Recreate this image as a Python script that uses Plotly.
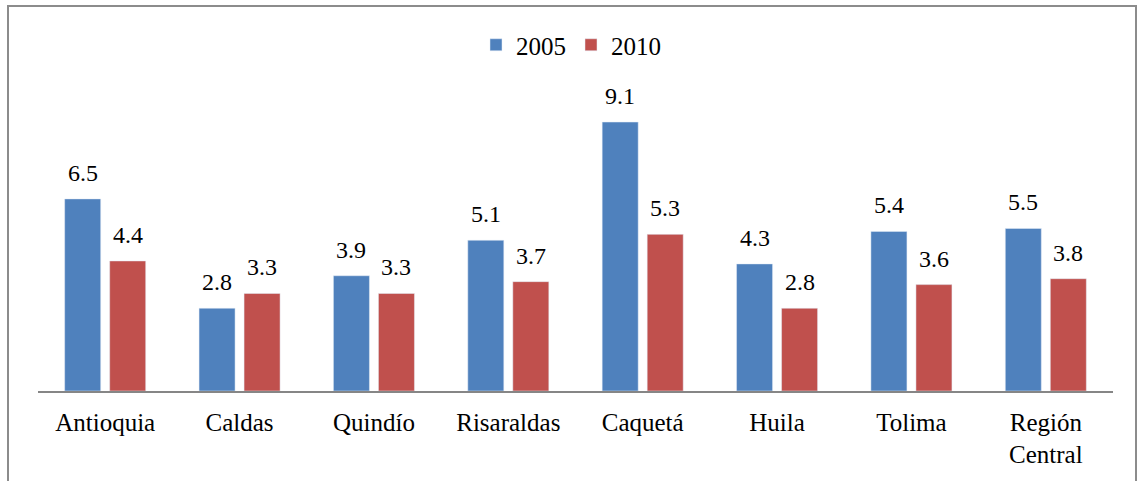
import plotly.graph_objects as go

categories = ["Antioquia", "Caldas", "Quindío", "Risaraldas", "Caquetá", "Huila", "Tolima", "Región<br>Central"]
values_2005 = [6.5, 2.8, 3.9, 5.1, 9.1, 4.3, 5.4, 5.5]
values_2010 = [4.4, 3.3, 3.3, 3.7, 5.3, 2.8, 3.6, 3.8]

FONT = "Times New Roman, Liberation Serif, serif"
fig = go.Figure()
fig.add_trace(go.Bar(name="2005", x=categories, y=values_2005, marker_color="#4F81BD"))
fig.add_trace(go.Bar(name="2010", x=categories, y=values_2010, marker_color="#C0504D"))

# value labels above each bar, positioned from the data
for vals, shift in ((values_2005, -22.5), (values_2010, 22.5)):
    for c, v in zip(categories, vals):
        fig.add_annotation(x=c, y=v, text=f"{v:.1f}", showarrow=False, xshift=shift, yshift=11,
                           yanchor="bottom", xanchor="center",
                           font=dict(family=FONT, size=24, color="black"))

fig.update_layout(
    width=1142, height=481,
    margin=dict(l=38, r=29, t=60, b=90, autoexpand=False),
    paper_bgcolor="white", plot_bgcolor="white",
    barmode="group", bargap=0.33, bargroupgap=0.2,
    font=dict(family=FONT, size=24, color="black"),
    legend=dict(orientation="h", x=0.5, xanchor="center", xref="container",
                y=1 - 45 / 481, yanchor="middle", yref="container",
                font=dict(family=FONT, size=25, color="black"), itemwidth=30),
    showlegend=True,
)
fig.update_xaxes(showline=True, linecolor="#868686", linewidth=1.5, ticks="", showgrid=False,
                 automargin=False, tickfont=dict(family=FONT, size=25, color="black"),
                 ticklabelstandoff=8)
fig.update_yaxes(range=[0, 11.2], visible=False, showgrid=False, zeroline=False, automargin=False)

fig.add_shape(type="rect", xref="paper", yref="paper",
              x0=(8 - 38) / 1075, x1=(1136 - 38) / 1075,
              y0=(391 - 490) / 331, y1=(391 - 6) / 331,
              line=dict(color="#8C8C8C", width=2), fillcolor="rgba(0,0,0,0)", layer="below")

fig.write_html("out.html", config={"displayModeBar": False},
               post_script="document.body.style.margin='0';")
